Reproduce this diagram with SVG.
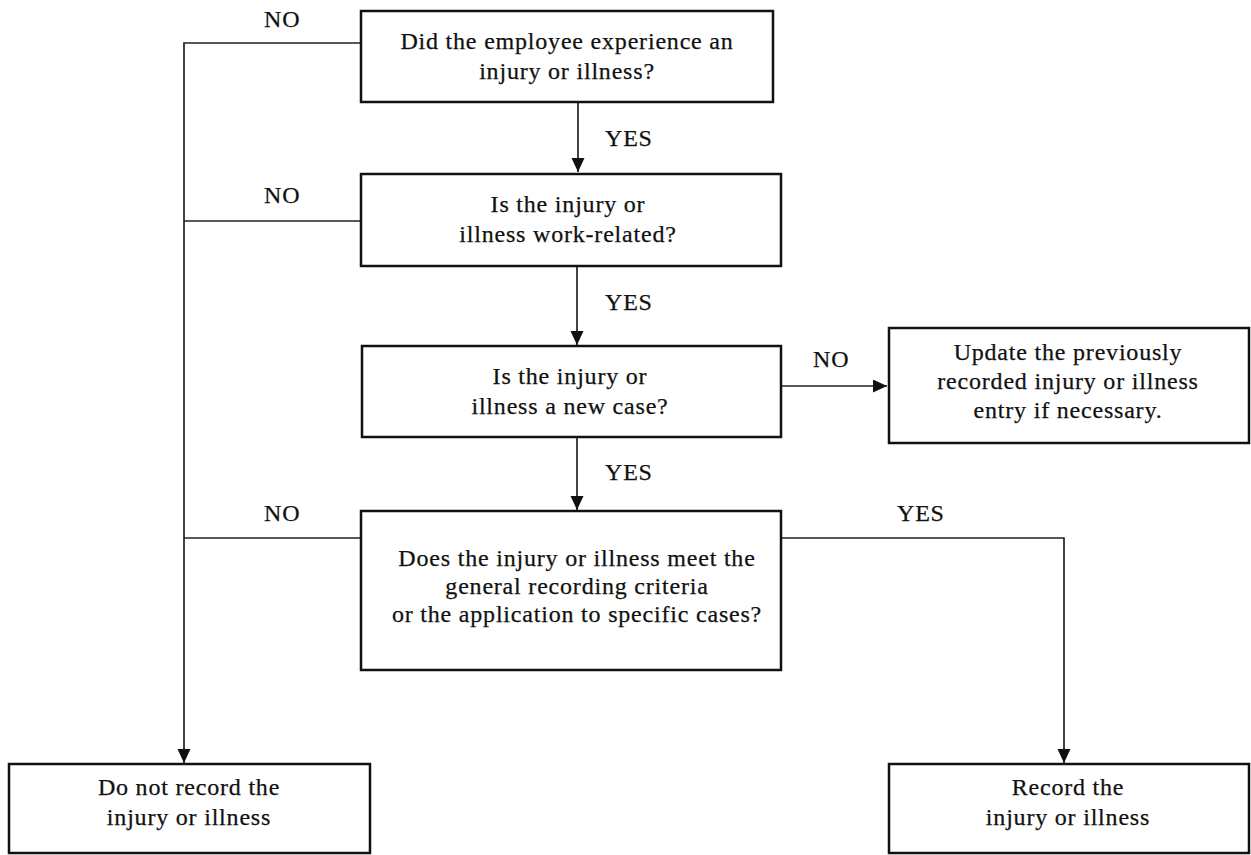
<svg xmlns="http://www.w3.org/2000/svg" width="1251" height="855" viewBox="0 0 1251 855">
<defs>
<marker id="arr" markerUnits="userSpaceOnUse" markerWidth="15" markerHeight="14" refX="14" refY="6.5" orient="auto">
<path d="M0,0 L14,6.5 L0,13 z" fill="#111"/>
</marker>
<style>
.box{fill:#fff;stroke:#111;stroke-width:2.5}
.t{font-size:24px;letter-spacing:0.8px;fill:#111;stroke:#111;stroke-width:0.25;text-anchor:middle}
.lbl{font-size:24px;letter-spacing:0.8px;fill:#111;stroke:#111;stroke-width:0.25}
.c{fill:none;stroke:#222;stroke-width:1.7}
</style>
</defs>
<rect width="1251" height="855" fill="#fff"/>
<g font-family="Liberation Serif, Times New Roman, Times, DejaVu Serif, serif">
<g id="connectors">
<path class="c" d="M361,43 H184 V763" marker-end="url(#arr)"/>
<path class="c" d="M361,221 H184"/>
<path class="c" d="M361,538 H184"/>
<path class="c" d="M578,102 V172" marker-end="url(#arr)"/>
<path class="c" d="M577,266 V345" marker-end="url(#arr)"/>
<path class="c" d="M781,386 H887" marker-end="url(#arr)"/>
<path class="c" d="M577,437 V510" marker-end="url(#arr)"/>
<path class="c" d="M781,538 H1064 V763" marker-end="url(#arr)"/>
<text class="lbl" x="264" y="27">NO</text>
<text class="lbl" x="264" y="203">NO</text>
<text class="lbl" x="264" y="521">NO</text>
<text class="lbl" x="605" y="146">YES</text>
<text class="lbl" x="605" y="310">YES</text>
<text class="lbl" x="605" y="480">YES</text>
<text class="lbl" x="813" y="367">NO</text>
<text class="lbl" x="897" y="521">YES</text>
</g>
<g id="n1">
<rect class="box" x="361" y="11" width="412" height="91"/>
<text class="t" x="567" y="49">Did the employee experience an</text>
<text class="t" x="567" y="79">injury or illness?</text>
</g>
<g id="n2">
<rect class="box" x="361" y="174" width="420" height="92"/>
<text class="t" x="568" y="212">Is the injury or</text>
<text class="t" x="568" y="242">illness work-related?</text>
</g>
<g id="n3">
<rect class="box" x="362" y="346" width="419" height="91"/>
<text class="t" x="570" y="384">Is the injury or</text>
<text class="t" x="570" y="414">illness a new case?</text>
</g>
<g id="n4">
<rect class="box" x="889" y="328" width="360" height="115"/>
<text class="t" x="1068" y="360">Update the previously</text>
<text class="t" x="1068" y="389">recorded injury or illness</text>
<text class="t" x="1068" y="418">entry if necessary.</text>
</g>
<g id="n5">
<rect class="box" x="361" y="511" width="420" height="159"/>
<text class="t" x="577" y="566">Does the injury or illness meet the</text>
<text class="t" x="577" y="594">general recording criteria</text>
<text class="t" x="577" y="622">or the application to specific cases?</text>
</g>
<g id="n6">
<rect class="box" x="9" y="764" width="361" height="89"/>
<text class="t" x="189" y="795">Do not record the</text>
<text class="t" x="189" y="825">injury or illness</text>
</g>
<g id="n7">
<rect class="box" x="889" y="764" width="360" height="89"/>
<text class="t" x="1068" y="795">Record the</text>
<text class="t" x="1068" y="825">injury or illness</text>
</g>
</g>
</svg>
